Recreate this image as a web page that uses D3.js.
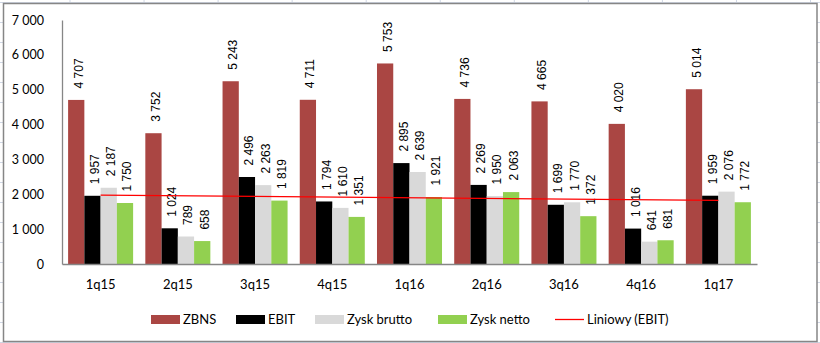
<!DOCTYPE html>
<html>
<head>
<meta charset="utf-8">
<script src="https://cdn.jsdelivr.net/npm/d3@7"></script>
<style>
  html, body { margin: 0; padding: 0; background: #fff; }
  svg { display: block; }
</style>
</head>
<body>
<svg id="chart" width="820" height="343"></svg>
<script>
// ---- data ----
const categories = ["1q15", "2q15", "3q15", "4q15", "1q16", "2q16", "3q16", "4q16", "1q17"];
const seriesNames = ["ZBNS", "EBIT", "Zysk brutto", "Zysk netto"];
const zbns = [4707, 3752, 5243, 4711, 5753, 4736, 4665, 4020, 5014];
const ebit = [1957, 1024, 2496, 1794, 2895, 2269, 1699, 1016, 1959];
const zyskBrutto = [2187, 789, 2263, 1610, 2639, 1950, 1770, 641, 2076];
const zyskNetto = [1750, 658, 1819, 1351, 1921, 2063, 1372, 681, 1772];
const yTicks = [0, 1000, 2000, 3000, 4000, 5000, 6000, 7000];
const trendName = "Liniowy (EBIT)";
const colors = ["#AA4643", "#000000", "#D9D9D9", "#92D050"];

const seriesValues = [zbns, ebit, zyskBrutto, zyskNetto];

const svg = d3.select("#chart");
const W = 820, H = 343;

// spreadsheet background gridlines (outside chart frame)
const bg = svg.append("g");
d3.range(70, 820, 74.05).forEach(x => {
  bg.append("line").attr("x1", x).attr("x2", x).attr("y1", 0).attr("y2", H)
    .attr("stroke", "#D0D7E5").attr("stroke-width", 1);
});
d3.range(2.5, 343, 20).forEach(yy => {
  bg.append("line").attr("x1", 0).attr("x2", W).attr("y1", yy).attr("y2", yy)
    .attr("stroke", "#D0D7E5").attr("stroke-width", 1);
});
// chart area
svg.append("rect").attr("x", 3.5).attr("y", 3.5).attr("width", 813.5).attr("height", 338)
  .attr("fill", "#fff").attr("stroke", "#868686").attr("stroke-width", 1.5);

const pLeft = 62, pRight = 757, pTop = 20, pBottom = 264;
const x0 = d3.scaleBand().domain(categories).range([pLeft, pRight])
  .paddingInner(0.158).paddingOuter(0.079);
const x1 = d3.scaleBand().domain(seriesNames).range([0, x0.bandwidth()]);
const y = d3.scaleLinear().domain([0, 7000]).range([pBottom, pTop]);

const fmt = v => d3.format(",")(v).replace(/,/g, "\u00a0");

// y axis
const yAxis = svg.append("g").attr("transform", `translate(${pLeft},0)`)
  .call(d3.axisLeft(y).tickValues(yTicks).tickSize(0).tickPadding(18).tickFormat(fmt));
yAxis.select(".domain").attr("stroke", "#868686").attr("stroke-width", 1.3);
yAxis.selectAll("text").attr("font-family", "Lato, sans-serif").attr("font-size", 12.5)
  .attr("fill", "#000");

// bars
const groups = svg.append("g").selectAll("g").data(categories).join("g")
  .attr("transform", d => `translate(${x0(d)},0)`);
groups.selectAll("rect")
  .data((c, i) => seriesNames.map((s, j) => ({ s, j, v: seriesValues[j][i] })))
  .join("rect")
  .attr("x", d => x1(d.s))
  .attr("y", d => y(d.v))
  .attr("width", x1.bandwidth())
  .attr("height", d => y(0) - y(d.v))
  .attr("fill", d => colors[d.j]);

// data labels
groups.selectAll("text.lbl")
  .data((c, i) => seriesNames.map((s, j) => ({ s, j, v: seriesValues[j][i] })))
  .join("text").attr("class", "lbl")
  .attr("transform", d => `translate(${x1(d.s) + x1.bandwidth() / 2 + 2.3},${y(d.v) - 11.5}) rotate(-90)`)
  .attr("dy", "0.35em")
  .attr("font-family", "'Liberation Sans', Arial, sans-serif")
  .attr("font-size", 12)
  .attr("fill", "#000")
  .text(d => fmt(d.v));

// x axis
const xAxis = svg.append("g").attr("transform", `translate(0,${pBottom})`)
  .call(d3.axisBottom(x0).tickSize(0).tickPadding(16));
xAxis.select(".domain").attr("stroke", "#868686").attr("stroke-width", 1.3);
xAxis.selectAll("text").attr("font-family", "Lato, sans-serif").attr("font-size", 13)
  .attr("fill", "#000").attr("dy", "0.71em");

// linear trendline for EBIT
const xs = categories.map((c, i) => i + 1);
const mx = d3.mean(xs), my = d3.mean(ebit);
const slope = d3.sum(xs.map((xv, i) => (xv - mx) * (ebit[i] - my))) / d3.sum(xs.map(xv => (xv - mx) ** 2));
const icpt = my - slope * mx;
const trendPts = [1, categories.length].map(k => [x0(categories[k - 1]) + x0.bandwidth() / 2, y(icpt + slope * k)]);
svg.append("path").attr("d", d3.line()(trendPts))
  .attr("stroke", "#FF0000").attr("stroke-width", 1.3).attr("fill", "none");

// legend
const legend = svg.append("g").attr("font-family", "Lato, sans-serif").attr("font-size", 13);
const legItems = [
  { name: seriesNames[0], x: 151, type: "rect", c: colors[0] },
  { name: seriesNames[1], x: 236, type: "rect", c: colors[1] },
  { name: seriesNames[2], x: 315, type: "rect", c: colors[2] },
  { name: seriesNames[3], x: 438, type: "rect", c: colors[3] },
  { name: trendName, x: 555, type: "line", c: "#FF0000" }
];
const ly = 319.5;
legItems.forEach(it => {
  if (it.type === "rect") {
    legend.append("rect").attr("x", it.x).attr("y", ly - 4.5).attr("width", 29).attr("height", 9).attr("fill", it.c);
  } else {
    legend.append("line").attr("x1", it.x).attr("x2", it.x + 29).attr("y1", ly).attr("y2", ly)
      .attr("stroke", it.c).attr("stroke-width", 1.3);
  }
  legend.append("text").attr("x", it.x + 32).attr("y", ly).attr("dy", "0.35em").attr("fill", "#000").text(it.name);
});
</script>
</body>
</html>
